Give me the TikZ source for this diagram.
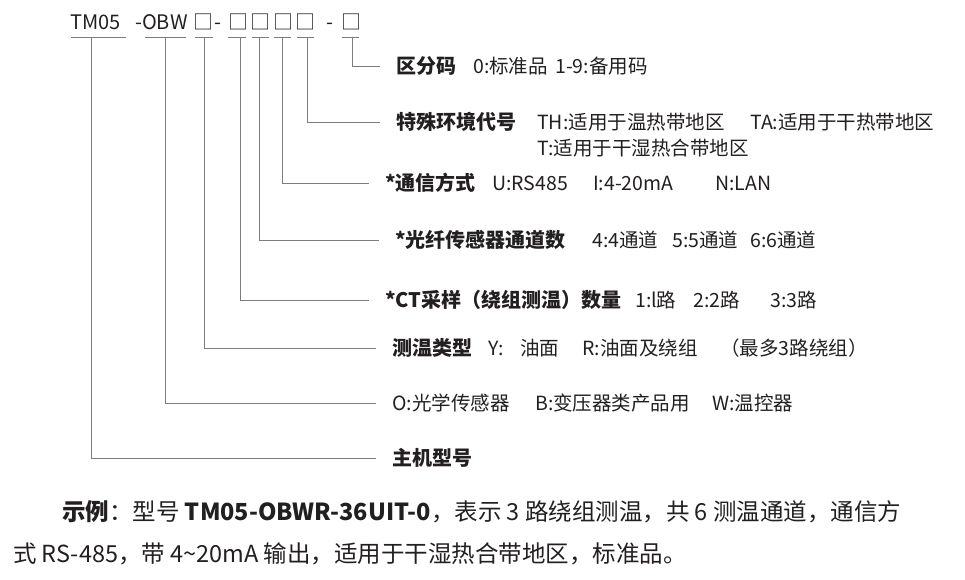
\documentclass[tikz,border=0pt]{standalone}
\usepackage{fontspec}
\setmainfont{Noto Sans CJK SC}
\usepackage{xcolor}
\usepackage{tikz}
\usetikzlibrary{positioning}

\definecolor{ink}{RGB}{35,31,32}
\definecolor{wire}{RGB}{125,125,125}

\begin{document}
\begin{tikzpicture}[x=1pt, y=-1pt, every node/.style={inner sep=0pt, text=ink}]
        \tikzstyle{code} = [anchor=base, font=\fontsize{20}{24}\selectfont]
        \tikzstyle{title} = [anchor=west, font=\fontsize{20}{24}\selectfont\bfseries]
        \tikzstyle{desc} = [anchor=west, font=\fontsize{19.5}{23}\selectfont]
        \tikzstyle{uline} = [draw=wire, line width=0.9pt]
        \tikzstyle{conn} = [draw=wire, line width=0.9pt, shorten >=16pt]
        \tikzstyle{note} = [anchor=west, font=\fontsize{23.5}{28}\selectfont]

        \useasboundingbox (0,0) rectangle (965,580);

        % model code
        \node [code, anchor=base west] (tm) at (70,30) {TM05};
        \node [code, anchor=base west] (obw) at (135,30) {-OBW};
        \node [code] (b1) at (203,30) {□};
        \node [code, anchor=base west] (d1) at (214,30) {-};
        \node [code] (b2) at (238,30) {□};
        \node [code] (b3) at (260,30) {□};
        \node [code] (b4) at (283,30) {□};
        \node [code] (b5) at (305,30) {□};
        \node [code, anchor=base west] (d2) at (326,30) {-};
        \node [code] (b6) at (351,30) {□};

        \draw [uline] (71,37) -- (126,37);
        \draw [uline] (145,37) -- (186,37);
        \draw [uline] (195,37) -- (213,37);
        \draw [uline] (228,37) -- (246,37);
        \draw [uline] (252,37) -- (269,37);
        \draw [uline] (274,37) -- (291,37);
        \draw [uline] (297,37) -- (314,37);
        \draw [uline] (342,37) -- (359,37);

        \coordinate (u-tm) at (91,37);
        \coordinate (u-obw) at (165,37);
        \coordinate (u-b1) at (204,37);
        \coordinate (u-b2) at (240,37);
        \coordinate (u-b3) at (259,37);
        \coordinate (u-b4) at (282,37);
        \coordinate (u-b5) at (307,37);
        \coordinate (u-b6) at (352,37);

        % fields
        \node [title] (qfm) at (396,66) {区分码};
        \node [desc] (qfm-d) at (473,66) {\makebox[82pt][l]{0:标准品}1-9:备用码};

        \node [title] (tshj) at (396,122) {特殊环境代号};
        \node [desc] (tshj-d) at (537,122) {\makebox[213pt][l]{TH:适用于温热带地区}TA:适用于干热带地区};
        \node [desc] (tshj-e) at (537,148) {T:适用于干湿热合带地区};

        \node [title] (txfs) at (385,183) {*通信方式};
        \node [desc] (txfs-d) at (492,183) {\makebox[101pt][l]{U:RS485}\makebox[122pt][l]{I:4-20mA}N:LAN};

        \node [title] (gxtd) at (395,240) {*光纤传感器通道数};
        \node [desc] (gxtd-d) at (592,240) {\makebox[80pt][l]{4:4通道}\makebox[78pt][l]{5:5通道}6:6通道};

        \node [title] (ctsl) at (385,300) {*CT采样（绕组测温）数量};
        \node [desc] (ctsl-d) at (635,300) {\makebox[58pt][l]{1:l路}\makebox[77pt][l]{2:2路}3:3路};

        \node [title] (cwlx) at (392,348) {测温类型};
        \node [desc] (cwlx-d) at (488,348) {\makebox[32pt][l]{Y:}\makebox[62pt][l]{油面}\makebox[138pt][l]{R:油面及绕组}（最多3路绕组）};

        \node [desc] (cgq) at (392,403) {\makebox[143pt][l]{O:光学传感器}\makebox[177pt][l]{B:变压器类产品用}W:温控器};

        \node [title] (zjxh) at (392,458) {主机型号};

        \path [conn] (u-b6) |- (qfm.west);
        \path [conn] (u-b5) |- (tshj.west);
        \path [conn] (u-b4) |- (txfs.west);
        \path [conn] (u-b3) |- (gxtd.west);
        \path [conn] (u-b2) |- (ctsl.west);
        \path [conn] (u-b1) |- (cwlx.west);
        \path [conn] (u-obw) |- (cgq.west);
        \path [conn] (u-tm) |- (zjxh.west);

        % example
        \node [note] (ex1) at (62,512) {\textbf{示例}：型号 \textbf{TM05-OBWR-36UIT-0}，表示 3 路绕组测温，共 6 测温通道，通信方};
        \node [note] (ex2) at (13,554) {式 RS-485，带 4\char`~20mA 输出，适用于干湿热合带地区，标准品。};
    \end{tikzpicture}
\end{document}
